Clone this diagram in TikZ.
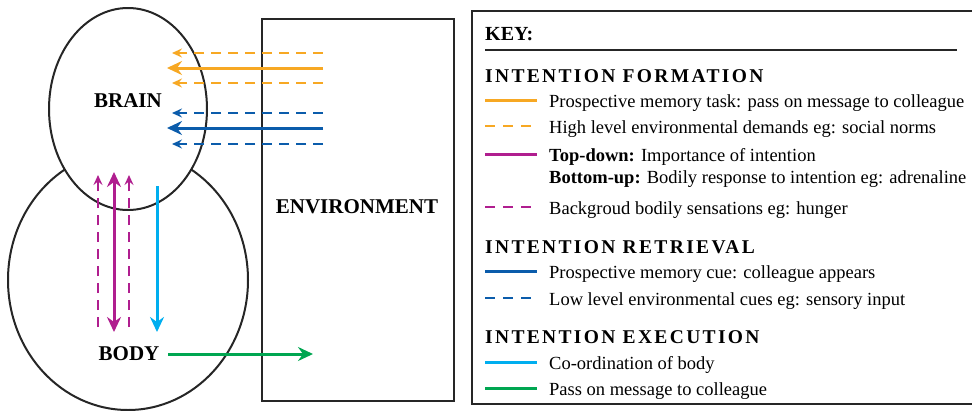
\documentclass[tikz,border=0pt]{standalone}
\usepackage{fontspec}
\setmainfont{Liberation Serif}
\usepackage{xcolor}
\usetikzlibrary{arrows.meta,positioning}
\tikzset{font={\fontsize{18.5pt}{22}\selectfont}}
\definecolor{formorange}{HTML}{F7A823}
\definecolor{retrblue}{HTML}{0B5CAB}
\definecolor{topmagenta}{HTML}{B01E8F}
\definecolor{execcyan}{HTML}{00AEEF}
\definecolor{execgreen}{HTML}{00A651}
\tikzset{
  outline/.style={draw=black!85, line width=2pt},
  bigtip/.style={-{Stealth[length=15pt,width=14pt,inset=5pt]}, line width=3pt},
  smalltip/.style={-{Stealth[length=10pt,width=9pt,inset=3.5pt]}, line width=2pt, dash pattern=on 10pt off 7pt},
  keyline/.style={line width=3pt},
  keydash/.style={line width=2pt, dash pattern=on 10pt off 8pt},
  bigword/.style={font={\fontsize{21pt}{24}\selectfont\bfseries}},
  keyhead/.style={anchor=base west, inner sep=0pt, font={\fontsize{19.5pt}{22}\selectfont\bfseries\addfontfeature{LetterSpace=12}}},
  keytext/.style={anchor=base west, inner sep=0pt}
}

\begin{document}
\begin{tikzpicture}[x=1pt,y=-1pt]
\useasboundingbox (0,0) rectangle (972,410);

%brain and body
\draw[outline] (128,280) ellipse [x radius=120pt, y radius=130pt];
\draw[outline,fill=white] (128,109) ellipse [x radius=79pt, y radius=101pt];
\node[bigword] (brain) at (128,101) {BRAIN};
\node[bigword] (body) at (129,354) {BODY};

%environment
\draw[outline] (262,19) rectangle (454,401);
\node[bigword] (env) at (357,207) {ENVIRONMENT};

%arrows into brain
\coordinate (of1s) at (323,53);  \coordinate (of1e) at (172,53);
\coordinate (of2s) at (323,68);  \coordinate (of2e) at (167,68);
\coordinate (of3s) at (323,83);  \coordinate (of3e) at (172,83);
\coordinate (rb1s) at (323,113); \coordinate (rb1e) at (172,113);
\coordinate (rb2s) at (323,128); \coordinate (rb2e) at (167,128);
\coordinate (rb3s) at (323,144); \coordinate (rb3e) at (172,144);
\draw[smalltip,formorange] (of1s) -- (of1e);
\draw[bigtip,formorange] (of2s) -- (of2e);
\draw[smalltip,formorange] (of3s) -- (of3e);
\draw[smalltip,retrblue] (rb1s) -- (rb1e);
\draw[bigtip,retrblue] (rb2s) -- (rb2e);
\draw[smalltip,retrblue] (rb3s) -- (rb3e);

%brain <-> body
\coordinate (bb1s) at (98,327);  \coordinate (bb1e) at (98,175);
\coordinate (bb2s) at (114,332); \coordinate (bb2e) at (114,172);
\coordinate (bb3s) at (129,327); \coordinate (bb3e) at (129,175);
\coordinate (co1s) at (157,186); \coordinate (co1e) at (157,332);
\draw[smalltip,topmagenta] (bb1s) -- (bb1e);
\draw[bigtip,topmagenta,{Stealth[length=15pt,width=14pt,inset=5pt]}-{Stealth[length=15pt,width=14pt,inset=5pt]}] (bb2s) -- (bb2e);
\draw[smalltip,topmagenta] (bb3s) -- (bb3e);
\draw[bigtip,execcyan] (co1s) -- (co1e);

%body to environment
\coordinate (pms) at (168,354); \coordinate (pme) at (313,354);
\draw[bigtip,execgreen] (pms) -- (pme);

%key
\draw[outline] (472,11) rectangle (976,404);
\node[anchor=base west, inner sep=0pt, font={\fontsize{20pt}{22}\selectfont\bfseries}] (key) at (485,40) {KEY:};
\draw[line width=2.5pt,black!85] (485,50) -- (957,50);

\node[keyhead] (hform) at (485,82) {INTENTION FORMATION};
\draw[keyline,formorange] (485,100) -- (537,100);
\node[keytext] (t1) at (549,107) {Prospective memory task: pass on message to colleague};
\draw[keydash,formorange] (485,126) -- (537,126);
\node[keytext] (t2) at (549,133) {High level environmental demands eg: social norms};
\draw[keyline,topmagenta] (485,154) -- (537,154);
\node[keytext] (t3) at (549,161) {\textbf{Top-down:} Importance of intention};
\node[keytext] (t4) at (549,183) {\textbf{Bottom-up:} Bodily response to intention eg: adrenaline};
\draw[keydash,topmagenta] (485,207) -- (537,207);
\node[keytext] (t5) at (549,214) {Backgroud bodily sensations eg: hunger};

\node[keyhead] (hretr) at (485,253) {INTENTION RETRIEVAL};
\draw[keyline,retrblue] (485,271) -- (537,271);
\node[keytext] (t6) at (549,278) {Prospective memory cue: colleague appears};
\draw[keydash,retrblue] (485,298) -- (537,298);
\node[keytext] (t7) at (549,305) {Low level environmental cues eg: sensory input};

\node[keyhead] (hexec) at (485,343) {INTENTION EXECUTION};
\draw[keyline,execcyan] (485,362) -- (537,362);
\node[keytext] (t8) at (549,369) {Co-ordination of body};
\draw[keyline,execgreen] (485,388) -- (537,388);
\node[keytext] (t9) at (549,395) {Pass on message to colleague};

\end{tikzpicture}
\end{document}
